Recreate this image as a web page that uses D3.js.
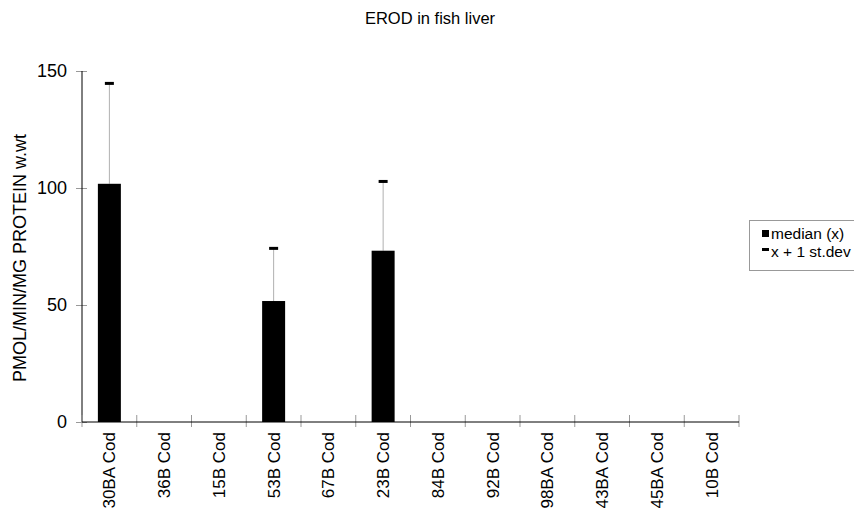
<!DOCTYPE html>
<html><head><meta charset="utf-8">
<script src="https://cdn.jsdelivr.net/npm/d3@7"></script>
<style>body{margin:0;background:#fff}svg{display:block;font-family:"Liberation Sans",Arial,sans-serif}</style>
</head><body>
<svg id="c" width="854" height="511"></svg>
<script>
const categories = ["30BA Cod","36B Cod","15B Cod","53B Cod","67B Cod","23B Cod","84B Cod","92B Cod","98BA Cod","43BA Cod","45BA Cod","10B Cod"];
const medianValues = [101.8, null, null, 51.7, null, 73.2, null, null, null, null, null, null];
const upperSdValues = [144.7, null, null, 74.2, null, 102.8, null, null, null, null, null, null];
const yTicks = [0, 50, 100, 150];
const titleText = "EROD in fish liver";
const yLabel = "PMOL/MIN/MG PROTEIN w.wt";
const legendLabels = ["median (x)", "x + 1 st.dev"];

const svg = d3.select("#c");
const x = d3.scaleBand().domain(categories).range([82, 739]).paddingInner(0.58).paddingOuter(0.29);
const y = d3.scaleLinear().domain([0, 150]).range([422, 71]);

svg.append("text").attr("x", 430).attr("y", 24).attr("text-anchor", "middle")
  .attr("font-size", 16.5).attr("fill", "#000").text(titleText);

// y axis
const ya = svg.append("g").attr("transform", "translate(82,0)")
  .call(d3.axisLeft(y).tickValues(yTicks).tickSize(6).tickPadding(9));
ya.select(".domain").remove();
ya.selectAll(".tick line").attr("stroke", "#999").attr("x1", 5).attr("x2", -6);
ya.selectAll(".tick text").attr("font-size", 18).attr("font-family", "Liberation Sans, Arial, sans-serif").attr("fill", "#000");
svg.append("line").attr("x1", 82).attr("x2", 82).attr("y1", y(150)).attr("y2", y(0)).attr("stroke", "#000");

// x axis
const xa = svg.append("g").attr("transform", "translate(0,422)")
  .call(d3.axisBottom(x).tickSize(0).tickPadding(0));
xa.select(".domain").remove();
xa.selectAll(".tick text").attr("font-size", 17).attr("font-family", "Liberation Sans, Arial, sans-serif").attr("fill", "#000")
  .attr("transform", "rotate(-90)").attr("text-anchor", "end").attr("x", -10).attr("y", 0).attr("dy", "0.35em");
const bounds = categories.map(c => x(c) - x.step() * x.paddingInner() / 2).concat([739]);
svg.selectAll("line.xt").data(bounds).join("line").attr("class", "xt")
  .attr("x1", d => d).attr("x2", d => d).attr("y1", 415).attr("y2", 427).attr("stroke", "#999");
svg.append("line").attr("x1", 82).attr("x2", 739).attr("y1", y(0)).attr("y2", y(0)).attr("stroke", "#000");

const data = categories.map((c, i) => ({c, m: medianValues[i], u: upperSdValues[i]}));
// error lines
svg.selectAll("line.err").data(data.filter(d => d.u != null)).join("line").attr("class", "err")
  .attr("x1", d => x(d.c) + x.bandwidth() / 2).attr("x2", d => x(d.c) + x.bandwidth() / 2)
  .attr("y1", d => y(d.u)).attr("y2", d => y(d.m)).attr("stroke", "#b0b0b0");
svg.selectAll("rect.cap").data(data.filter(d => d.u != null)).join("rect").attr("class", "cap")
  .attr("x", d => x(d.c) + x.bandwidth() / 2 - 4.5).attr("y", d => y(d.u) - 1.5)
  .attr("width", 9).attr("height", 3).attr("fill", "#000");
// bars
svg.selectAll("rect.bar").data(data.filter(d => d.m != null)).join("rect").attr("class", "bar")
  .attr("x", d => x(d.c)).attr("y", d => y(d.m)).attr("width", x.bandwidth())
  .attr("height", d => y(0) - y(d.m)).attr("fill", "#000");

// legend
const lg = svg.append("g");
lg.append("rect").attr("x", 749.5).attr("y", 220.5).attr("width", 110).attr("height", 50)
  .attr("fill", "#fff").attr("stroke", "#999");
lg.append("rect").attr("x", 762).attr("y", 230).attr("width", 7).attr("height", 7).attr("fill", "#000");
lg.append("rect").attr("x", 762).attr("y", 248).attr("width", 7).attr("height", 3).attr("fill", "#000");
lg.selectAll("text").data(legendLabels).join("text").attr("x", 771).attr("y", (d, i) => 239 + i * 17.5)
  .attr("font-size", 15.5).attr("fill", "#000").text(d => d);

// y label
svg.append("text").attr("transform", "translate(26,258) rotate(-90)").attr("text-anchor", "middle")
  .attr("font-size", 18).attr("fill", "#000").text(yLabel);
</script>
</body></html>
